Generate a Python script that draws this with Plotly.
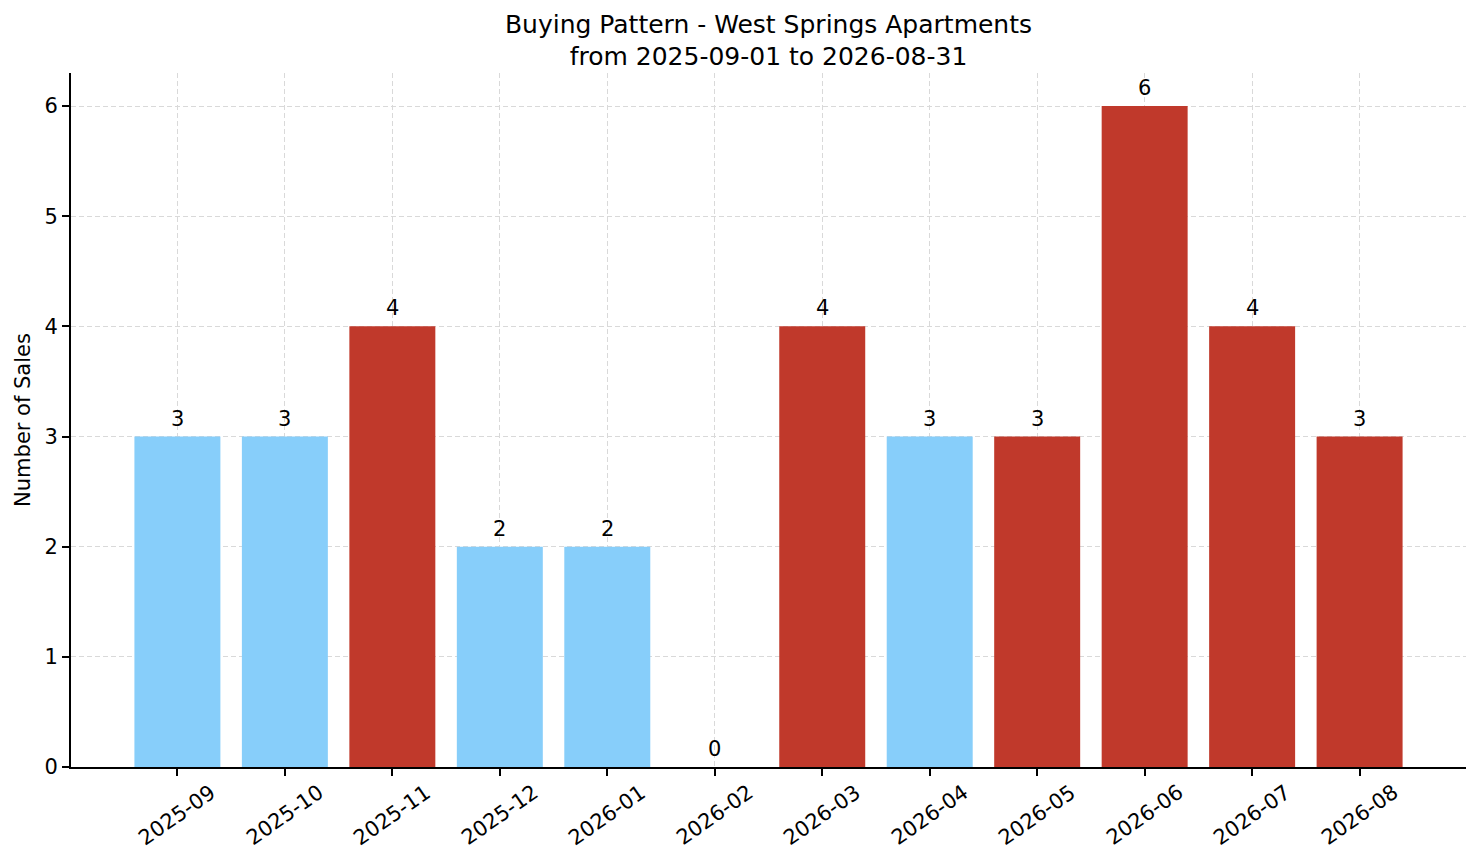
import plotly.graph_objects as go

# monthly sales, West Springs Apartments
months = ["2025-09", "2025-10", "2025-11", "2025-12", "2026-01", "2026-02",
          "2026-03", "2026-04", "2026-05", "2026-06", "2026-07", "2026-08"]
sales = [3, 3, 4, 2, 2, 0, 4, 3, 3, 6, 4, 3]
flagged = [False, False, True, False, False, False, True, False, True, True, True, True]

BLUE = "#87CEFA"
RED = "#C0392B"
FONT = "DejaVu Sans"
GRID = "#d9d9d9"

bar_colors = [RED if f else BLUE for f in flagged]

fig = go.Figure()
fig.add_trace(go.Bar(
    x=months, y=sales,
    width=0.8,
    marker=dict(color=bar_colors, line=dict(width=0)),
    showlegend=False,
))

# value labels above the bars
for m, v in zip(months, sales):
    fig.add_annotation(x=m, xref="x", y=v, yref="y", yshift=4,
                       text=str(v), showarrow=False,
                       xanchor="center", yanchor="bottom",
                       font=dict(family=FONT, size=21, color="black"))

# rotated month labels, centred on each tick like matplotlib does
for m in months:
    fig.add_annotation(x=m, xref="x", y=0, yref="paper", yshift=-48,
                       text=m, textangle=-35, showarrow=False,
                       xanchor="center", yanchor="middle",
                       font=dict(family=FONT, size=21, color="black"))

fig.update_layout(
    width=1481, height=863,
    paper_bgcolor="white", plot_bgcolor="white",
    margin=dict(l=71, r=15, t=73, b=96),
    font=dict(family=FONT, size=21, color="black"),
    title=dict(text="Buying Pattern - West Springs Apartments<br>from 2025-09-01 to 2026-08-31",
               x=0.5, xref="paper", xanchor="center",
               y=0.962, yref="container", yanchor="top",
               font=dict(family=FONT, size=25, color="black")),
)
fig.update_xaxes(
    type="category", range=[-0.99, 11.99],
    showline=True, linecolor="black", linewidth=1.7,
    ticks="outside", ticklen=7, tickwidth=1.7, tickcolor="black",
    showticklabels=False,
    showgrid=True, gridcolor=GRID, gridwidth=1, griddash="5px,3px",
    zeroline=False, automargin=False,
)
fig.update_yaxes(
    range=[0, 6.3], dtick=1, tick0=0,
    showline=True, linecolor="black", linewidth=1.7,
    ticks="outside", ticklen=7, tickwidth=1.7, tickcolor="black",
    tickfont=dict(family=FONT, size=21, color="black"),
    showgrid=True, gridcolor=GRID, gridwidth=1, griddash="5px,3px",
    zeroline=False, automargin=False,
    title=dict(text="Number of Sales", standoff=8,
               font=dict(family=FONT, size=21, color="black")),
)

fig.write_html("out.html", config={"displayModeBar": False},
               post_script="document.body.style.margin='0';")
